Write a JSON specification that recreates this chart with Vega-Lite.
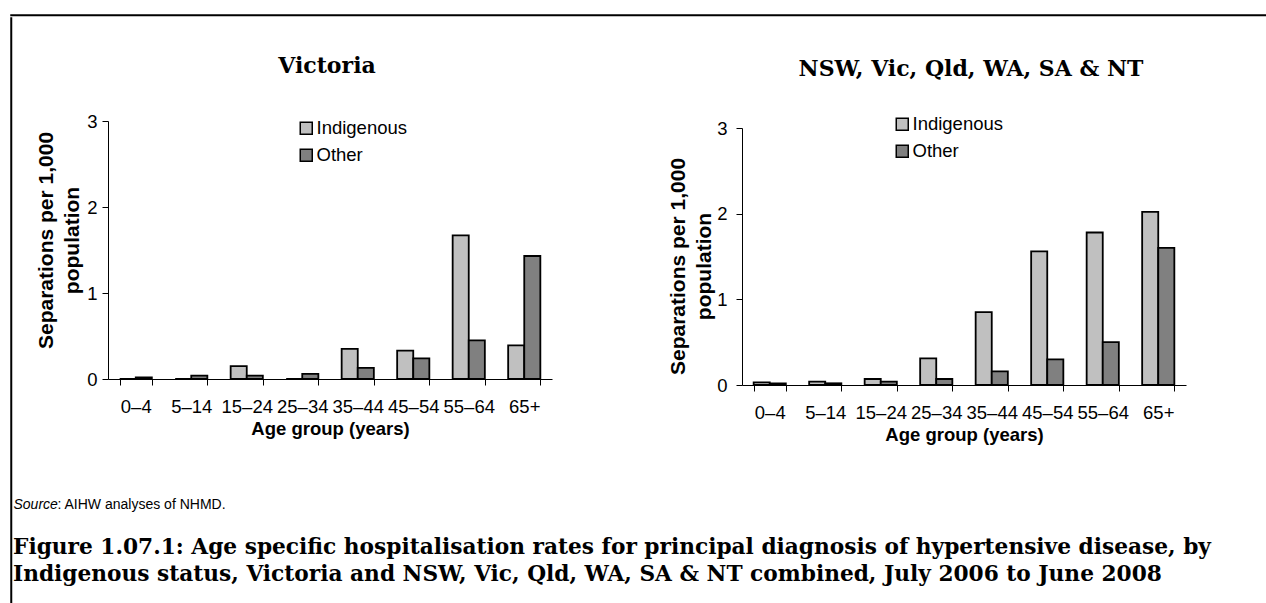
{
  "$schema": "https://vega.github.io/schema/vega-lite/v6.json",
  "background": "white",
  "padding": {"left": 10, "top": 14, "right": 0, "bottom": 0},
  "config": {
    "view": {"stroke": null},
    "font": "Liberation Sans",
    "axis": {"domainColor": "black", "tickColor": "black", "labelColor": "black", "titleColor": "black", "grid": false, "labelFont": "Liberation Sans", "titleFont": "Liberation Sans", "domainWidth": 1, "tickWidth": 1},
    "legend": {"labelFont": "Liberation Sans", "labelColor": "black"},
    "title": {"font": "DejaVu Serif", "fontWeight": "bold", "color": "black"}
  },
  "spacing": 0,
  "vconcat": [
    {"width": 1255, "height": 0.5, "view": {"stroke": "black", "strokeWidth": 1.5}, "data": {"values": [{}]}, "mark": {"type": "point", "size": 0, "opacity": 0}, "encoding": {}},
    {
      "spacing": 0,
      "hconcat": [
        {"width": 0.5, "height": 586, "view": {"stroke": "black", "strokeWidth": 1.5}, "data": {"values": [{}]}, "mark": {"type": "point", "size": 0, "opacity": 0}, "encoding": {}},
        {
          "spacing": 36,
          "vconcat": [
            {"width": 1, "height": 1, "data": {"values": [{}]}, "mark": {"type": "point", "size": 0, "opacity": 0}, "encoding": {}},
            {
              "spacing": 53,
              "title": {"text": ["Figure 1.07.1: Age specific hospitalisation rates for principal diagnosis of hypertensive disease, by", "Indigenous status, Victoria and NSW, Vic, Qld, WA, SA & NT combined, July 2006 to June 2008"], "orient": "bottom", "anchor": "start", "fontSize": 21.7, "lineHeight": 27, "offset": 25},
              "vconcat": [
                {
                  "spacing": 21,
                  "hconcat": [
                    {"width": 1, "height": 1, "data": {"values": [{}]}, "mark": {"type": "point", "size": 0, "opacity": 0}, "encoding": {}},
                    {
                      "spacing": 115,
                      "resolve": {"scale": {"color": "independent"}, "legend": {"color": "independent"}},
                      "hconcat": [
                        {
                          "width": 444, "height": 258,
                          "title": {"text": "Victoria", "fontSize": 22, "offset": 34, "dx": -3},
                          "data": {"values": [
                            {"age": "0–4", "status": "Indigenous", "rate": 0},
                            {"age": "0–4", "status": "Other", "rate": 0.02},
                            {"age": "5–14", "status": "Indigenous", "rate": 0},
                            {"age": "5–14", "status": "Other", "rate": 0.04},
                            {"age": "15–24", "status": "Indigenous", "rate": 0.15},
                            {"age": "15–24", "status": "Other", "rate": 0.04},
                            {"age": "25–34", "status": "Indigenous", "rate": 0},
                            {"age": "25–34", "status": "Other", "rate": 0.06},
                            {"age": "35–44", "status": "Indigenous", "rate": 0.35},
                            {"age": "35–44", "status": "Other", "rate": 0.13},
                            {"age": "45–54", "status": "Indigenous", "rate": 0.33},
                            {"age": "45–54", "status": "Other", "rate": 0.24},
                            {"age": "55–64", "status": "Indigenous", "rate": 1.67},
                            {"age": "55–64", "status": "Other", "rate": 0.45},
                            {"age": "65+", "status": "Indigenous", "rate": 0.39},
                            {"age": "65+", "status": "Other", "rate": 1.43}
                          ]},
                          "mark": {"type": "bar", "stroke": "black", "strokeWidth": 1.8},
                          "encoding": {
                            "x": {"field": "age", "type": "nominal", "sort": null,
                              "scale": {"paddingInner": 0.42, "paddingOuter": 0.21},
                              "axis": {"title": "Age group (years)", "labelAngle": 0, "labelFontSize": 18.5, "labelPadding": 12, "tickBand": "extent", "tickSize": 6, "titleFontSize": 18.5, "titleFontWeight": "bold", "titlePadding": 4}},
                            "xOffset": {"field": "status", "type": "nominal", "sort": ["Indigenous", "Other"]},
                            "y": {"field": "rate", "type": "quantitative", "scale": {"domain": [0, 3], "nice": false},
                              "axis": {"values": [0, 1, 2, 3], "format": "d", "title": ["Separations per 1,000", "population"], "labelFontSize": 18.5, "labelPadding": 5, "tickSize": 6, "titleFontSize": 21, "titleFontWeight": "bold", "titleLineHeight": 26, "titlePadding": 4, "titleY": 119}},
                            "color": {"field": "status", "type": "nominal", "scale": {"domain": ["Indigenous", "Other"], "range": ["#c0c0c0", "#808080"]},
                              "legend": {"title": null, "orient": "none", "legendX": 189, "legendY": -2, "symbolType": "square", "symbolSize": 144, "symbolStrokeColor": "black", "symbolStrokeWidth": 1.5, "symbolOpacity": 1, "labelFontSize": 18.5, "rowPadding": 8, "labelOffset": 1}}
                          }
                        },
                        {
                          "width": 444, "height": 264,
                          "title": {"text": "NSW, Vic, Qld, WA, SA & NT", "fontSize": 22, "offset": 34, "dx": 7},
                          "data": {"values": [
                            {"age": "0–4", "status": "Indigenous", "rate": 0.03},
                            {"age": "0–4", "status": "Other", "rate": 0.02},
                            {"age": "5–14", "status": "Indigenous", "rate": 0.04},
                            {"age": "5–14", "status": "Other", "rate": 0.02},
                            {"age": "15–24", "status": "Indigenous", "rate": 0.07},
                            {"age": "15–24", "status": "Other", "rate": 0.04},
                            {"age": "25–34", "status": "Indigenous", "rate": 0.31},
                            {"age": "25–34", "status": "Other", "rate": 0.07},
                            {"age": "35–44", "status": "Indigenous", "rate": 0.85},
                            {"age": "35–44", "status": "Other", "rate": 0.16},
                            {"age": "45–54", "status": "Indigenous", "rate": 1.56},
                            {"age": "45–54", "status": "Other", "rate": 0.3},
                            {"age": "55–64", "status": "Indigenous", "rate": 1.78},
                            {"age": "55–64", "status": "Other", "rate": 0.5},
                            {"age": "65+", "status": "Indigenous", "rate": 2.02},
                            {"age": "65+", "status": "Other", "rate": 1.6}
                          ]},
                          "mark": {"type": "bar", "stroke": "black", "strokeWidth": 1.8},
                          "encoding": {
                            "x": {"field": "age", "type": "nominal", "sort": null,
                              "scale": {"paddingInner": 0.42, "paddingOuter": 0.21},
                              "axis": {"title": "Age group (years)", "labelAngle": 0, "labelFontSize": 18.5, "labelPadding": 12, "tickBand": "extent", "tickSize": 6, "titleFontSize": 18.5, "titleFontWeight": "bold", "titlePadding": 4}},
                            "xOffset": {"field": "status", "type": "nominal", "sort": ["Indigenous", "Other"]},
                            "y": {"field": "rate", "type": "quantitative", "scale": {"domain": [0, 3], "nice": false, "range": [264, 7]},
                              "axis": {"values": [0, 1, 2, 3], "format": "d", "title": ["Separations per 1,000", "population"], "labelFontSize": 18.5, "labelPadding": 9, "tickSize": 6, "titleFontSize": 21, "titleFontWeight": "bold", "titleLineHeight": 26, "titlePadding": 2, "titleY": 145}},
                            "color": {"field": "status", "type": "nominal", "scale": {"domain": ["Indigenous", "Other"], "range": ["#c0c0c0", "#808080"]},
                              "legend": {"title": null, "orient": "none", "legendX": 151, "legendY": -6, "symbolType": "square", "symbolSize": 144, "symbolStrokeColor": "black", "symbolStrokeWidth": 1.5, "symbolOpacity": 1, "labelFontSize": 18.5, "rowPadding": 8, "labelOffset": 1}}
                          }
                        }
                      ]
                    }
                  ]
                },
                {
                  "width": 1, "height": 1,
                  "layer": [
                    {"data": {"values": [{"t": "Source"}]}, "mark": {"type": "text", "align": "left", "baseline": "middle", "fontSize": 14, "fontStyle": "italic", "color": "black"}, "encoding": {"text": {"field": "t"}}},
                    {"data": {"values": [{"t": ": AIHW analyses of NHMD."}]}, "mark": {"type": "text", "align": "left", "baseline": "middle", "fontSize": 14, "dx": 44, "color": "black"}, "encoding": {"text": {"field": "t"}}}
                  ]
                }
              ]
            }
          ]
        }
      ]
    }
  ]
}
